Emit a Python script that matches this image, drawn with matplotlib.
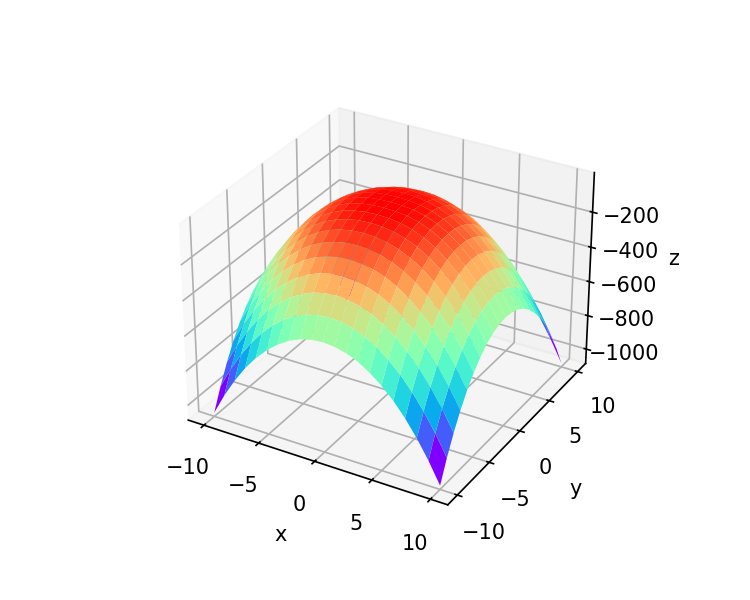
import numpy as np
import matplotlib
matplotlib.use('Agg')
import matplotlib.pyplot as plt

x_values = [-10, -9, -8, -7, -6, -5, -4, -3, -2, -1, 0, 1, 2, 3, 4, 5, 6, 7, 8, 9, 10]
y_values = [-10, -9, -8, -7, -6, -5, -4, -3, -2, -1, 0, 1, 2, 3, 4, 5, 6, 7, 8, 9, 10]
z_ticks = [-1000, -800, -600, -400, -200]
# one quadrant of the surface, from the x=-10,y=-10 corner to the centre
z_quadrant = [
    [-1064, -943, -837, -745, -667, -603, -551, -510, -482, -466, -460],
    [-943, -825, -721, -632, -556, -494, -443, -405, -378, -362, -356],
    [-837, -721, -620, -533, -460, -400, -351, -314, -288, -273, -268],
    [-745, -632, -533, -449, -378, -320, -273, -238, -213, -199, -194],
    [-667, -556, -460, -378, -309, -253, -208, -175, -152, -138, -134],
    [-603, -494, -400, -320, -253, -199, -156, -125, -103, -90, -86],
    [-551, -443, -351, -273, -208, -156, -116, -86, -66, -54, -50],
    [-510, -405, -314, -238, -175, -125, -86, -58, -39, -28, -25],
    [-482, -378, -288, -213, -152, -103, -66, -39, -22, -12, -9],
    [-466, -362, -273, -199, -138, -90, -54, -28, -12, -4, -2],
    [-460, -356, -268, -194, -134, -86, -50, -25, -9, -2, 0],
]

q = np.array(z_quadrant, dtype=float)
top = np.hstack([q, q[:, -2::-1]])
Z = np.vstack([top, top[-2::-1, :]])
X, Y = np.meshgrid(x_values, y_values)

fig = plt.figure(figsize=(5, 4), dpi=150)
ax = fig.add_subplot(111, projection='3d')
ax.plot_surface(X, Y, Z, rstride=1, cstride=1, cmap='rainbow')
ax.set_zticks(z_ticks)
ax.set_xlabel('x')
ax.set_ylabel('y')
ax.set_zlabel('z')
plt.savefig('out.png')
